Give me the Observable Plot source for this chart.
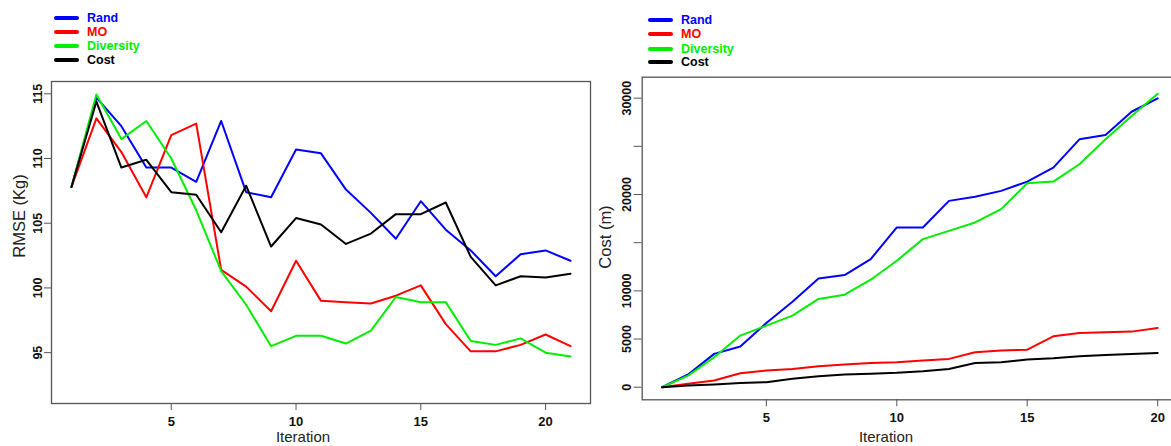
<!DOCTYPE html>
<html>
<head>
<meta charset="utf-8">
<script src="https://cdn.jsdelivr.net/npm/d3@7"></script>
<script src="https://cdn.jsdelivr.net/npm/@observablehq/plot@0.6"></script>
<style>
  html, body { margin: 0; padding: 0; background: #fff; }
  #wrap { position: relative; width: 1171px; height: 446px; overflow: hidden; font-family: "Liberation Sans", Arial, sans-serif; }
  .panel { position: absolute; }
  .leg { position: absolute; font-weight: bold; font-size: 12.5px; line-height: 14px; }
  .leg .row { position: absolute; white-space: nowrap; }
  .leg .sw { position: absolute; width: 25px; height: 4px; border-radius: 2px; }
  .leg .tx { position: absolute; transform: translateY(-50%); }
  .title { position: absolute; font-size: 15px; color: #222; white-space: nowrap; }
  .ytitle { position: absolute; font-size: 16.5px; color: #222; white-space: nowrap; transform: translate(-50%, -50%) rotate(-90deg); }
</style>
</head>
<body>
<div id="wrap"></div>
<script>
// ---------- data ----------
const seriesNames = ["Rand", "MO", "Diversity", "Cost"];
const seriesColors = ["#0000ff", "#ff0000", "#00ee00", "#000000"];

const iterRmse = [1,2,3,4,5,6,7,8,9,10,11,12,13,14,15,16,17,18,19,20,21];
const rmseRand      = [107.8,114.7,112.5,109.3,109.3,108.2,112.9,107.4,107.0,110.7,110.4,107.6,105.8,103.8,106.7,104.5,102.9,100.9,102.6,102.9,102.1];
const rmseMO        = [107.8,113.1,110.5,107.0,111.8,112.7,101.4,100.1,98.2,102.1,99.0,98.9,98.8,99.4,100.2,97.2,95.1,95.1,95.6,96.4,95.5];
const rmseDiversity = [107.8,114.95,111.5,112.9,110.0,106.0,101.3,98.7,95.5,96.3,96.3,95.7,96.7,99.3,98.9,98.9,95.9,95.6,96.1,95.0,94.7];
const rmseCost      = [107.8,114.4,109.3,109.9,107.4,107.2,104.3,107.9,103.2,105.4,104.9,103.4,104.2,105.7,105.7,106.6,102.4,100.2,100.9,100.8,101.1];

const iterCost = [1,2,3,4,5,6,7,8,9,10,11,12,13,14,15,16,17,18,19,20];
const costRand      = [0,1320,3460,4220,6670,8880,11290,11640,13300,16580,16580,19340,19760,20380,21340,22790,25730,26180,28590,29980];
const costMO        = [0,350,690,1450,1730,1900,2180,2350,2520,2590,2770,2940,3630,3800,3900,5280,5630,5700,5770,6150];
const costDiversity = [0,1210,3110,5360,6390,7430,9160,9600,11160,13130,15370,16230,17100,18480,21170,21340,23140,25730,28150,30460];
const costCost      = [0,170,280,450,520,870,1140,1320,1390,1490,1660,1900,2520,2590,2870,3000,3210,3350,3460,3560];

const xTicks = [5, 10, 15, 20];
const rmseTicks = [95, 100, 105, 110, 115];
const costTicks = [0, 5000, 10000, 15000, 20000, 25000, 30000];
const costTickLabels = ["0", "5000", "10000", "", "20000", "", "30000"];

// ---------- build tables ----------
function longTable(iters, arrays) {
  const rows = [];
  arrays.forEach((arr, s) => arr.forEach((v, i) => rows.push({iter: iters[i], value: v, series: seriesNames[s]})));
  return rows;
}
const rmseData = longTable(iterRmse, [rmseRand, rmseMO, rmseDiversity, rmseCost]);
const costData = longTable(iterCost, [costRand, costMO, costDiversity, costCost]);

const wrap = document.getElementById("wrap");
const font = "'Liberation Sans', Arial, sans-serif";
const axisStyle = {fontWeight: "bold", fontSize: 12.5, fill: "#111", stroke: "#444"};

// ---------- left panel ----------
const left = Plot.plot({
  width: 595, height: 376,
  marginLeft: 51, marginRight: 5, marginTop: 11, marginBottom: 43,
  style: {fontFamily: font, background: "white", overflow: "visible"},
  x: {domain: [0.2, 21.8]},
  y: {domain: [91.07, 115.95]},
  color: {domain: seriesNames, range: seriesColors},
  marks: [
    Plot.line(rmseData, {x: "iter", y: "value", z: "series", stroke: "series", strokeWidth: 2}),
    Plot.frame({stroke: "#555", strokeWidth: 1.3}),
    Plot.axisX({ticks: xTicks, tickSize: 7, tickPadding: 6, label: null, fontWeight: "bold", fontSize: 13, color: "#111", stroke: "#555"}),
    Plot.axisY({ticks: rmseTicks, tickSize: 7, tickPadding: 3, tickRotate: -90, label: null, fontWeight: "bold", fontSize: 12.5, color: "#111", stroke: "#555"})
  ]
});
left.classList.add("panel");
left.style.left = "0px"; left.style.top = "70px";
wrap.appendChild(left);

// ---------- right panel ----------
const right = Plot.plot({
  width: 584, height: 380,
  marginLeft: 46.7, marginRight: 2, marginTop: 10.7, marginBottom: 46.7,
  style: {fontFamily: font, background: "white", overflow: "visible"},
  x: {domain: [0.24, 20.76]},
  y: {domain: [-1306, 32176]},
  color: {domain: seriesNames, range: seriesColors},
  marks: [
    Plot.line(costData, {x: "iter", y: "value", z: "series", stroke: "series", strokeWidth: 2}),
    Plot.frame({stroke: "#555", strokeWidth: 1.3}),
    Plot.axisX({ticks: xTicks, tickSize: 7, tickPadding: 6, label: null, fontWeight: "bold", fontSize: 13, color: "#111", stroke: "#555"}),
    Plot.axisY({ticks: costTicks, tickFormat: (d, i) => costTickLabels[costTicks.indexOf(d)], tickSize: 8, tickPadding: 3, tickRotate: -90, label: null, fontWeight: "bold", fontSize: 12.5, color: "#111", stroke: "#555"})
  ]
});
right.classList.add("panel");
right.style.left = "595px"; right.style.top = "66px";
wrap.appendChild(right);

// ---------- titles ----------
function addTitle(text, x, y) {
  const d = document.createElement("div");
  d.className = "title"; d.textContent = text;
  d.style.left = x + "px"; d.style.top = y + "px";
  d.style.transform = "translate(-50%, -50%)";
  wrap.appendChild(d);
}
function addYTitle(text, x, y) {
  const d = document.createElement("div");
  d.className = "ytitle"; d.textContent = text;
  d.style.left = x + "px"; d.style.top = y + "px";
  wrap.appendChild(d);
}
addTitle("Iteration", 303, 436);
addTitle("Iteration", 886, 436);
addYTitle("RMSE (Kg)", 19, 216);
addYTitle("Cost (m)", 605, 237);

// ---------- legends ----------
function addLegend(x0, ys) {
  seriesNames.forEach((name, i) => {
    const sw = document.createElement("div");
    sw.className = "leg";
    sw.style.left = x0 + "px"; sw.style.top = (ys[i] - 2) + "px";
    sw.style.width = "25px"; sw.style.height = "4px"; sw.style.borderRadius = "2px";
    sw.style.background = seriesColors[i];
    wrap.appendChild(sw);
    const tx = document.createElement("div");
    tx.className = "leg";
    tx.textContent = name;
    tx.style.color = seriesColors[i];
    tx.style.left = (x0 + 33) + "px"; tx.style.top = ys[i] + "px";
    tx.style.transform = "translateY(-50%)";
    wrap.appendChild(tx);
  });
}
addLegend(54, [18.3, 32.3, 46, 60.3]);
addLegend(648, [20, 34, 49, 62]);
</script>
</body>
</html>
